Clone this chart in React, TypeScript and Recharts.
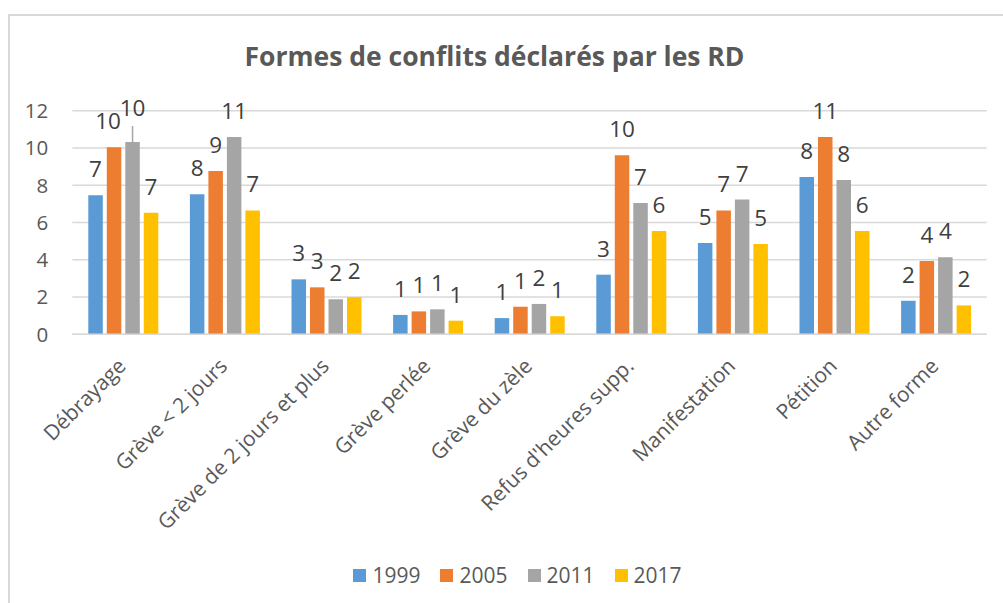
import { BarChart, Bar, XAxis, YAxis, CartesianGrid, LabelList, Legend } from "recharts";

const categories = [
  "Débrayage",
  "Grève < 2 jours",
  "Grève de 2 jours et plus",
  "Grève perlée",
  "Grève du zèle",
  "Refus d'heures supp.",
  "Manifestation",
  "Pétition",
  "Autre forme",
];

const values1999 = [7.46, 7.51, 2.95, 1.04, 0.87, 3.2, 4.9, 8.44, 1.8];
const values2005 = [10.04, 8.77, 2.52, 1.23, 1.48, 9.61, 6.65, 10.59, 3.93];
const values2011 = [10.32, 10.59, 1.88, 1.34, 1.63, 7.05, 7.23, 8.28, 4.13];
const values2017 = [6.52, 6.65, 1.99, 0.73, 0.97, 5.55, 4.85, 5.55, 1.55];

const years = ["1999", "2005", "2011", "2017"];
const colors = ["#5b9bd5", "#ed7d31", "#a5a5a5", "#ffc000"];
const yTicks = [0, 2, 4, 6, 8, 10, 12];

const FONT = "'Open Sans', sans-serif";

const data = categories.map((name, i) => ({
  name,
  "1999": values1999[i],
  "2005": values2005[i],
  "2011": values2011[i],
  "2017": values2017[i],
}));

// label renderer; Excel nudged the first group's 2005/2011 labels to avoid overlap
function makeLabel(year: string) {
  return (props: any) => {
    const { x, y, width, value, index } = props;
    const cx = Number(x) + Number(width) / 2;
    const top = Number(y);
    let dx = 0;
    let lift = 0;
    let leader = false;
    if (index === 0 && year === "2011") {
      lift = 8;
      leader = true;
    }
    if (index === 0 && year === "2005") dx = -6;
    return (
      <g>
        {leader && <line x1={cx} y1={top} x2={cx} y2={top - 16} stroke="#a6a6a6" strokeWidth={1.5} />}
        <text x={cx + dx} y={top - 18 - lift} textAnchor="middle" fill="#404040" fontSize={22.5} fontFamily={FONT}>
          {Math.round(Number(value))}
        </text>
      </g>
    );
  };
}

function CategoryTick(props: any) {
  const { x, y, payload } = props;
  return (
    <g transform={`translate(${x + 4},${y + 33})`}>
      <text transform="rotate(-45)" textAnchor="end" fill="#595959" fontSize={21} fontFamily={FONT}>
        {payload.value}
      </text>
    </g>
  );
}

function LegendContent() {
  return (
    <div style={{ display: "flex", justifyContent: "center", paddingLeft: 32, fontFamily: FONT }}>
      {years.map((yr, i) => (
        <div key={yr} style={{ display: "flex", alignItems: "center", marginRight: i < years.length - 1 ? 20 : 0 }}>
          <div style={{ width: 13, height: 13, background: colors[i], marginRight: 6 }} />
          <span style={{ fontSize: 21, color: "#595959", lineHeight: "26px" }}>{yr}</span>
        </div>
      ))}
    </div>
  );
}

export default function App() {
  return (
    <div style={{ position: "absolute", left: 0, top: 0, width: 1003, height: 603, background: "#fff", overflow: "hidden" }}>
      <div
        style={{
          position: "absolute",
          left: 8,
          top: 14,
          width: 1100,
          height: 700,
          border: "2px solid #d9d9d9",
          boxSizing: "border-box",
        }}
      />
      <div
        style={{
          position: "absolute",
          left: 0,
          width: 989,
          top: 38,
          textAlign: "center",
          fontFamily: FONT,
          fontWeight: 700,
          fontSize: 26.5,
          color: "#595959",
        }}
      >
        Formes de conflits déclarés par les RD
      </div>
      <div style={{ position: "absolute", left: 0, top: 0 }}>
        <BarChart
          width={1003}
          height={603}
          data={data}
          margin={{ top: 110.7, right: 16.3, bottom: 0, left: 32.3 }}
          barSize={14.5}
          barGap={4}
        >
          <CartesianGrid vertical={false} stroke="#d9d9d9" strokeWidth={1.5} />
          <XAxis
            dataKey="name"
            interval={0}
            tickLine={false}
            tickSize={0}
            tickMargin={0}
            axisLine={{ stroke: "#d9d9d9", strokeWidth: 1.5 }}
            height={268.7}
            tick={<CategoryTick />}
          />
          <YAxis
            domain={[0, 12]}
            ticks={yTicks}
            width={40}
            axisLine={false}
            tickLine={false}
            tickSize={0}
            tickMargin={24}
            tick={{ fill: "#595959", fontSize: 20.5, fontFamily: FONT }}
          />
          <Legend
            layout="horizontal"
            verticalAlign="middle"
            align="center"
            wrapperStyle={{ top: 562, left: 0, width: 1003 }}
            content={<LegendContent />}
          />
          {years.map((yr, i) => (
            <Bar key={yr} dataKey={yr} fill={colors[i]} isAnimationActive={false}>
              <LabelList dataKey={yr} content={makeLabel(yr)} />
            </Bar>
          ))}
        </BarChart>
      </div>
    </div>
  );
}
